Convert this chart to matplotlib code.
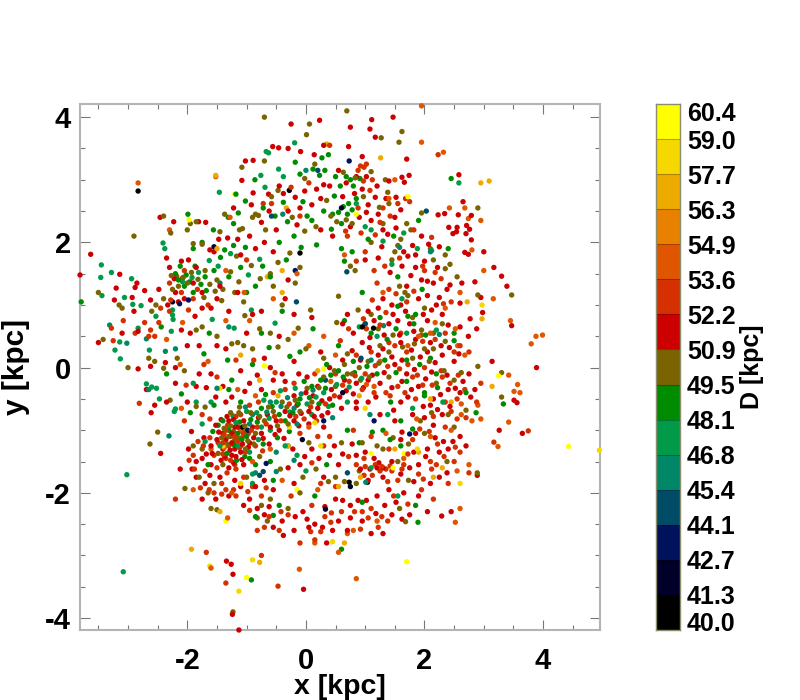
import matplotlib
matplotlib.use("Agg")
import matplotlib.pyplot as plt
from matplotlib.colors import ListedColormap, BoundaryNorm
import numpy as np

plt.rcParams['font.family'] = ['Liberation Sans', 'DejaVu Sans']
plt.rcParams['axes.unicode_minus'] = False

# colour band edges (labels on the bar) and band colours
band_labels = ['40.0','41.3','42.7','44.1','45.4','46.8','48.1','49.5','50.9','52.2','53.6','54.9','56.3','57.7','59.0','60.4']
band_colors = ['#000000','#000028','#00125c','#004c66','#008768','#009a48','#008c00','#7a6400',
               '#cc0000','#d43000','#e05500','#e88000','#edab00','#f5d800','#ffff00']

# points, one list per colour band: (x kpc, y kpc)
black = [(-2.83,2.82),(-0.28,2.83),(0.95,0.65),(1.14,0.63),(-1.07,-0.95),(0.73,-1.83),(1.04,-1.83),(-0.1,1.83)]
darknavy = [(-1.55,1.93),(-2.25,1.05),(0.62,-0.40),(0.75,-1.9),(-0.06,-1.15),(0.33,-2.26),(0.6,2.55)]
navy = [(-1.98,1.08),(-0.18,1.55),(-2.13,1.02),(-0.98,-1.0),(-0.67,-1.53),(1.75,-1.06),(0.3,-0.85),(1.15,-0.85),(0.73,3.3)]
blueteal = [(-0.58,2.42),(0.2,3.15),(2.03,2.5),(-0.16,1.05),(0.69,1.53),(0.7,-1.68),(0.93,0.15),(-0.72,-1.66),(-0.78,-1.72),(0.33,-0.2),(1.0,0.7)]
teal = [(-3.31,0.68),(-3.02,0.39),(-2.69,0.46),(-2.37,0.26),(-0.39,2.45),(0.0,3.15),(-2.31,-1.09),(-2.2,0.3),(-1.3,0.65),(-1.45,1.35),(-0.9,-0.75),(-0.6,-0.55),(-0.2,-0.65),(-0.5,-1.35),(-0.3,-1.25),(-0.2,-1.48),(-0.5,-1.66),(-0.85,-1.68),(-0.95,-0.9),(0.45,-0.8),(1.31,0.67),(2.25,0.53),(2.1,1.85),(1.58,1.92),(1.1,0.12),(1.01,-1.83),(1.08,-0.75),(-0.15,-0.9),(-1.5,-0.33),(-2.65,-0.35),(-0.42,-0.62),(-0.31,-0.48),(-0.66,-0.71),(-0.08,-0.42),(0.12,-0.36),(-1.02,-0.63)]
midgreen = [(-3.45,1.64),(-3.46,1.44),(-3.28,1.52),(-3.44,1.15),(-3.06,1.12),(-2.94,1.42),(-2.92,1.01),(-2.78,0.99),(-2.83,0.63),(-2.53,0.82),(-3.14,0.41),(-3.13,0.14),(-3.22,0.28),(-2.64,0.28),(-2.25,0.92),(-2.25,0.84),(-2.24,0.77),(-2.27,0.58),(-1.46,2.80),(-2.41,1.99),(-2.38,1.9),(-0.67,3.45),(-0.63,3.43),(-0.76,3.07),(-0.69,2.88),(-0.46,3.17),(-0.38,3.05),(-0.19,3.59),(-3.02,-1.71),(-3.08,-3.26),(-2.69,-0.26),(-2.60,-0.31),(-2.52,-0.33),(-2.47,-0.50),(-2.2,-0.66),(-2.22,-0.70),(-1.9,-0.25),(-1.85,-0.55),(-1.6,-0.55),(-1.75,-0.9),(-1.7,-1.18),(-1.45,-1.25),(-1.15,-1.25),(-0.95,-1.35),(-0.9,-1.7),(-0.9,-1.85),(-0.8,-1.15),(-0.5,-0.55),(-0.35,-1.25),(-0.15,-1.4),(0.0,-1.65),(-1.0,-0.7),(-0.75,-0.95),(-0.6,-1.0),(1.3,2.02),(1.45,1.65),(1.65,2.15),(2.12,1.87),(1.88,1.9),(0.85,2.62),(1.0,2.25),(1.1,2.2),(1.62,1.1),(0.9,0.65),(1.2,0.5),(2.2,0.6),(1.7,0.55),(2.58,2.95),(1.55,-2.05),(1.1,-1.6),(1.8,-0.65),(1.38,-0.75),(2.31,-0.55),(0.7,-0.55),(0.3,-0.4),(0.1,-0.75),
(-1.92,1.44),(-2.08,1.37),(-1.81,1.52),(-1.63,1.71),(-1.48,1.62),(-1.27,1.82),(-0.97,1.48),(-0.78,1.73),(-1.58,0.77),(-1.21,0.63),(-0.92,0.92),(-0.52,0.71),(-0.71,-0.52),(-0.43,-0.37),(-0.27,-0.71),(-0.18,-0.33),(0.02,-0.58),(0.17,-0.47),(0.38,-0.62),(0.52,-0.27),(0.73,-0.31),(0.94,-0.17),(-1.23,-0.77),(-0.83,-0.72),(-0.62,-0.81),(-1.07,-1.03),(-1.18,-0.88)]
green = [(-3.79,1.05),(-2.44,0.65),(-1.99,2.45),(-1.56,2.20),(-1.14,2.47),(-1.22,2.30),(-1.31,2.40),(-1.37,1.88),(-1.18,2.77),(-0.86,3.0),(-0.10,3.09),(0.12,3.17),(0.23,3.07),(0.32,3.15),(0.27,3.35),(-0.38,2.64),(-0.05,2.65),(-1.75,2.0),(-1.9,1.9),(-2.05,1.3),(-2.15,1.4),(-2.2,1.5),(-1.9,1.2),(-1.7,1.45),(-1.55,1.55),(-1.3,1.45),(-1.1,1.6),(-1.0,1.2),(-0.85,1.3),(-0.6,1.45),(-0.45,2.0),(-0.2,2.1),(0.1,2.35),(0.3,2.5),(0.45,2.45),(0.6,2.3),(0.7,2.45),(0.75,3.0),(0.68,3.05),(0.58,2.9),(0.8,2.9),(0.5,3.05),(0.85,2.7),(0.6,1.9),(0.78,1.85),(0.65,1.7),(0.95,1.2),(1.05,2.05),(2.45,3.02),(1.55,1.45),(1.48,2.1),(1.9,2.35),(2.4,1.9),(1.96,1.25),(1.55,0.98),(1.85,0.85),(1.2,-0.1),(2.7,-0.4),(1.82,0.7),(2.5,0.55),(2.5,0.43),(2.1,0.15),(1.25,0.8),(0.65,0.75),(0.55,0.35),(1.0,0.7),(1.1,0.55),(1.7,0.12),(2.0,-0.4),(0.8,0.1),(-0.4,0.9),(-0.75,0.55),(-0.9,0.05),(-0.1,-0.5),(0.1,-0.3),(0.25,-0.2),(0.45,-0.6),(-0.35,-0.85),(-0.6,-1.5),(-0.75,-0.65),(-0.45,-0.75),(-1.3,-1.0),(-1.15,-1.05),(-1.0,-1.1),(-1.3,-0.35),(-1.55,-0.6),(-1.4,-0.85),(-1.25,-0.2),(-1.1,-0.55),(-1.65,-1.55),(-1.08,-1.15),(-0.92,-3.39),(-0.95,-1.45),(-0.85,-1.55),(-0.55,-2.36),(-0.85,-2.38),(1.8,-0.98),(1.6,-0.85),(1.3,-1.0),(1.42,-1.15),(1.6,-1.25),(1.89,-2.47),(1.85,-2.2),(0.9,-1.2),(0.7,-1.0),(0.95,-2.15),(0.6,-2.9),(-0.55,-1.8),(-0.45,-2.2),(3.33,-0.58),(2.87,-0.72),(2.2,-0.1),(2.0,-0.45),(1.43,-0.55),(1.7,-0.22),(0.55,-0.05),(0.35,0.05),(-0.1,0.25),
(-2.02,1.48),(-1.96,1.37),(-1.77,1.33),(-1.68,1.23),(-1.87,1.62),(-2.12,1.62),(-1.44,1.76),(-1.22,1.95),(-1.02,1.92),(-0.73,1.62),(-0.33,1.72),(-0.08,1.92),(-0.31,2.33),(0.02,2.42),(0.18,1.96),(0.43,2.21),(0.91,3.02),(0.72,2.62),(0.63,2.57),(0.48,2.74),(0.78,2.52),(0.55,2.48),(0.38,3.4),(-0.18,3.28),(-0.52,2.42),(-0.72,2.55),(-1.02,2.66),(-1.63,0.55),(-1.32,0.12),(-1.72,0.22),(-0.62,0.32),(-0.27,0.18),(0.12,0.62),(-0.03,-0.22),(-0.22,-0.72),(-0.13,-0.58),(0.06,-0.48),(0.22,-0.58),(0.33,-0.33),(0.42,-0.12),(0.63,-0.15),(0.82,-0.08),(1.03,0.02),(1.33,0.12),(1.52,-0.08),(1.92,0.05),(2.22,-0.32),(-0.57,-0.62),(-0.68,-0.43),(-0.82,-0.87),(-0.93,-0.83),(-1.12,-0.87),(-1.22,-1.23),(-1.33,-1.37),(-1.17,-1.48),(-1.48,-0.92),(-1.57,-1.02),(-1.03,-1.42),(-0.72,-1.22),(-0.48,-1.12),(-0.28,-1.02),(-2.35,-0.1),(-2.1,-0.42),(-1.95,-0.72),(1.52,0.62),(1.72,0.82),(2.02,0.52),(1.37,0.45),(1.12,-1.03),(0.35,-1.55),(0.15,-2.05)]
olive = [(-2.9,2.1),(-2.4,2.42),(-2.28,2.15),(-1.95,2.3),(-1.85,2.33),(-2.0,2.2),(-1.9,1.98),(-1.75,1.97),(-1.37,2.45),(-1.45,2.17),(-1.07,2.22),(-1.12,2.2),(-0.7,3.3),(-1.08,3.2),(-0.68,2.2),(-0.8,2.43),(-0.85,2.45),(-0.9,2.4),(-0.7,4.0),(0.06,3.89),(0.01,3.72),(0.15,3.25),(0.69,4.1),(1.62,3.77),(1.57,3.6),(1.27,3.67),(1.1,3.13),(1.34,3.0),(1.38,2.8),(1.24,2.56),(1.4,2.62),(2.9,2.55),(1.95,2.47),(1.77,2.2),(1.3,2.3),(1.7,2.3),(1.55,1.95),(1.6,2.05),(1.1,2.0),(2.35,1.8),(2.1,1.9),(2.15,1.72),(1.5,1.85),(1.45,1.72),(1.58,1.3),(2.55,1.45),(2.35,1.58),(2.43,1.65),(0.83,1.55),(0.75,1.62),(0.55,1.14),(1.67,1.2),(1.72,1.15),(2.9,1.16),(3.47,1.16),(2.0,0.95),(2.3,0.7),(2.9,0.02),(0.78,-0.1),(0.65,0.05),(0.7,0.22),(1.1,0.85),(1.8,0.8),(1.95,0.52),(2.15,0.55),(1.95,0.6),(2.35,0.42),(2.0,0.3),(2.15,0.3),(1.25,0.35),(1.4,0.25),(-3.5,1.2),(-3.15,1.0),(-3.1,0.95),(-2.6,0.9),(-2.53,1.0),(-2.4,1.1),(-2.25,1.25),(-2.15,1.3),(-2.0,1.35),(-1.7,1.55),(-1.5,1.4),(-1.4,1.25),(-1.2,1.2),(-1.05,1.05),(-0.6,1.5),(-0.55,1.3),(-0.4,1.0),(-0.18,1.35),(-0.1,1.6),(-3.42,0.45),(-3.0,0.0),(-2.65,0.15),(-2.55,0.1),(-2.17,0.15),(-1.85,0.6),(-1.75,0.65),(-1.5,0.5),(-1.25,0.38),(-1.15,0.4),(-1.05,0.35),(-0.9,0.3),(-0.6,0.55),(-0.3,0.45),(0.0,0.3),(0.3,0.15),(-2.40,-0.01),(-2.05,-0.05),(-2.5,-1.03),(-2.63,-1.22),(-2.29,-0.52),(-1.85,-0.62),(-1.7,-0.63),(-1.9,-1.25),(-1.75,-1.3),(-2.04,-1.93),(-1.8,-1.75),(-1.65,-2.0),(-1.55,-1.85),(-1.4,-1.55),(-1.3,-1.1),(-1.2,-1.15),(-1.1,-1.25),(-1.0,-1.0),(-0.85,-1.05),(-0.7,-0.85),(-0.55,-0.7),(-0.4,-0.55),(-0.3,-0.9),(-0.1,-0.7),(0.1,-0.55),(0.3,-0.15),(0.5,-0.3),(0.7,-0.1),(0.9,0.0),(1.05,0.1),(1.4,-0.15),(1.8,0.15),(2.2,-0.25),(2.5,-0.2),(3.3,-0.08),(3.3,-0.47),(-1.0,-1.75),(-0.75,-2.2),(-0.6,-2.1),(-0.3,-2.25),(-0.1,-2.0),(0.05,-1.2),(-0.05,-1.75),(0.6,-1.2),(0.95,-1.2),(1.2,-1.25),(1.3,-1.3),(0.5,-1.75),(0.65,-1.82),(0.85,-1.85),(0.9,-1.65),(1.68,-2.46),(1.73,-1.8),(1.58,-2.25),(1.55,-1.5),(2.4,-0.75),(2.7,-0.68),(2.89,-1.68),(2.0,-1.05),(2.38,-1.5),(-1.23,-3.90),(-1.5,-2.27),(-1.6,-2.25),(-0.82,-2.4),(-0.65,-2.45),
(-2.27,1.47),(-2.18,1.46),(-2.07,1.44),(-1.93,1.52),(-1.82,1.41),(-1.62,1.33),(-1.53,1.22),(-1.72,1.12),(-1.42,1.07),(-1.27,1.53),(-1.13,1.37),(-0.92,1.63),(-0.77,1.42),(-0.47,1.68),(-0.27,1.83),(-0.02,2.18),(0.17,2.25),(0.35,2.67),(0.52,2.33),(0.83,3.03),(0.97,2.73),(0.63,3.12),(0.42,2.42),(0.68,2.36),(0.78,2.3),(-0.02,3.02),(-0.47,2.83),(-0.58,2.73),(-0.23,2.4),(-1.17,1.78),(-1.03,0.83),(-0.78,0.62),(-0.47,0.33),(-0.13,0.63),(0.08,0.92),(0.52,0.72),(0.88,0.92),(1.22,0.62),(1.47,0.52),(1.63,0.33),(1.83,0.38),(2.08,0.1),(2.33,-0.05),(2.62,-0.08),(1.23,0.07),(1.07,-0.15),(0.92,-0.2),(0.48,-0.05),(0.22,-0.32),(0.02,-0.33),(-0.18,-0.52),(-0.32,-0.63),(-0.48,-0.93),(-0.63,-0.63),(-0.78,-0.78),(-0.93,-0.72),(-1.03,-0.93),(-1.13,-0.72),(-1.27,-0.93),(-1.38,-0.97),(-1.42,-1.12),(-1.33,-1.22),(-1.22,-1.02),(-1.12,-1.13),(-0.98,-1.17),(-0.88,-1.22),(-1.12,-0.63),(-1.27,-0.72),(-1.48,-1.37),(-1.02,-1.3),(-0.78,-1.42),(-0.43,-1.62),(0.17,-1.62),(0.38,-1.82),(1.47,-1.12),(1.73,-1.22),(1.93,-0.85),(2.12,-0.72),(2.5,-0.95)]
red = [(-3.63,1.81),(-3.81,1.48),(-3.14,1.49),(-3.20,1.27),(-3.23,1.08),(-2.88,1.28),(-2.85,1.35),(-2.46,2.40),(-2.23,2.33),(-1.69,2.32),(-1.81,2.33),(-1.08,2.99),(-1.02,3.30),(-0.89,3.31),(-0.63,2.77),(-0.45,2.90),(-0.89,2.79),(-0.56,3.53),(-0.46,3.51),(-0.30,3.50),(-0.25,3.89),(-0.09,3.45),(0.14,3.40),(0.3,3.55),(0.23,3.95),(1.11,3.96),(1.47,4.0),(0.75,3.84),(1.08,3.81),(1.17,3.68),(1.70,3.33),(0.95,3.37),(0.72,3.53),(1.62,3.04),(1.74,3.07),(1.66,2.96),(1.40,2.98),(2.58,3.08),(2.65,2.65),(2.57,2.44),(2.34,2.46),(2.23,2.44),(2.79,2.43),(2.71,2.27),(2.76,2.21),(2.70,2.14),(2.79,2.04),(2.55,2.24),(2.41,2.24),(2.48,2.14),(2.54,2.17),(2.68,1.84),(2.74,1.81),(3.0,1.85),(3.17,1.60),(3.30,1.46),(3.39,1.30),(2.95,1.12),(2.98,0.88),(3.47,0.67),(2.88,0.62),(2.74,0.50),(3.14,0.10),(3.89,0.0),(3.51,-0.52),(3.56,-0.56),(3.65,-1.05),(3.26,-1.0),(2.89,-1.72),(2.45,-2.30),(-2.83,-0.02),(-2.69,-0.35),(-2.61,-0.72),(-2.55,-0.6),(-2.45,-1.37),(-1.34,-3.09),(-1.26,-3.14),(-1.23,-3.30),(-1.24,-3.94),(-1.13,-4.19),(-0.04,-3.54),(-2.2,0.0),(-2.35,-0.55),(-2.2,-0.25),(-2.0,-0.55),(-1.85,-0.3),(-1.6,-0.1),(-1.4,-0.3),(-1.1,-0.05),(-0.95,-0.25),(-0.75,-0.35),(-0.6,0.0),(-0.4,-0.1),(-0.2,0.1),(-2.1,0.6),(-1.95,0.55),(-1.75,0.95),(-1.6,0.95),(-1.5,1.1),(-1.45,1.3),(-1.75,1.2),(-1.9,1.35),(-2.2,1.2),(-2.05,1.1),(-2.3,1.6),(-2.35,1.75),(-2.1,1.7),(-1.85,1.6),(-1.55,1.85),(-1.1,1.8),(-0.85,1.9),(-0.7,2.0),(-0.5,2.2),(-0.3,2.5),(-0.1,2.55),(0.1,2.6),(0.25,2.7),(0.4,2.9),(0.55,3.15),(0.68,2.95),(0.85,3.05),(0.95,2.85),(1.05,2.6),(1.2,2.9),(1.35,2.7),(1.5,2.4),(1.3,2.2),(1.1,2.35),(0.9,2.4),(0.75,2.25),(1.65,1.85),(1.8,1.95),(1.95,2.1),(2.0,1.7),(2.15,1.35),(1.95,1.4),(1.85,1.6),(1.7,1.3),(1.45,1.0),(1.3,1.1),(1.6,1.0),(1.9,1.1),(2.05,1.15),(2.2,1.0),(2.3,0.85),(2.05,0.75),(2.1,0.4),(1.85,0.45),(1.6,0.4),(1.3,0.3),(0.95,0.4),(0.8,0.55),(0.62,0.7),(0.7,0.85),(1.05,0.9),(1.15,0.75),(1.4,0.7),(1.55,0.75),(1.75,0.7),(2.05,0.25),(2.3,0.2),(2.5,0.1),(2.75,-0.1),(2.85,-0.35),(2.6,-0.4),(2.4,-0.35),(2.15,-0.5),(2.3,-0.75),(2.1,-0.6),(1.9,-0.3),(1.7,-0.1),(1.5,0.05),(1.25,-0.25),(1.05,-0.2),(0.85,-0.25),(0.65,-0.2),(0.4,0.0),(0.2,-0.3),(0.0,-0.4),(-0.2,-0.45),(-0.35,-0.7),(-0.2,-0.85),(0.05,-0.9),(0.2,-0.65),(0.4,-0.5),(0.6,-0.65),(-0.5,-0.85),(-0.65,-0.75),(-0.8,-0.8),(-0.9,-0.95),(-1.05,-0.85),(-1.2,-0.95),(-1.3,-0.85),(-1.4,-1.05),(-1.25,-1.2),(-1.1,-1.35),(-1.25,-1.4),(-1.4,-1.3),(-1.5,-1.15),(-1.6,-1.25),(-1.75,-1.45),(-1.85,-1.5),(-1.6,-1.55),(-1.3,-1.6),(-1.45,-1.75),(-1.2,-1.8),(-1.05,-1.55),(-0.85,-1.9),(-0.7,-1.8),(-0.55,-1.95),(-1.7,-1.85),(-1.85,-1.75),(-1.75,-2.1),(-1.3,-2.05),(-1.1,-1.9),(-0.95,-2.1),(-0.7,-2.35),(-0.55,-2.55),(-0.4,-2.45),(-0.2,-2.6),(-0.05,-2.3),(0.15,-2.5),(0.05,-2.55),(0.35,-2.8),(-0.2,-1.85),(-0.3,-1.6),(-0.1,-1.55),(0.1,-1.3),(0.4,-1.4),(0.55,-1.55),(0.3,-1.75),(0.5,-2.1),(0.75,-2.2),(0.95,-2.45),(1.1,-2.65),(1.3,-2.65),(1.45,-2.35),(1.2,-2.05),(1.05,-1.8),(1.3,-1.75),(1.15,-1.45),(1.45,-1.5),(1.2,-1.6),(1.0,-1.35),(0.85,-1.4),(1.6,-1.7),(1.75,-1.6),(1.9,-1.55),(2.05,-1.3),(2.25,-1.35),(2.4,-1.3),(2.6,-1.1),(2.7,-1.25),(1.6,-1.15),(1.85,-1.05),(1.5,-0.85),(1.25,-0.75),(1.05,-0.55),(0.85,-0.55),(1.6,-0.55),(1.8,-0.75),(2.0,-0.8),(1.75,-2.35),(1.9,-2.05),(2.05,-2.3),(2.29,-2.37),(2.25,-1.75),(2.1,-1.85),(1.65,-2.0),(1.4,-1.95),(0.7,-2.6),(0.75,-2.4),(0.45,-2.6),(0.55,-2.45),(0.85,-0.65),(-3.1,0.55),(-2.83,0.58),(-3.5,0.4),(-2.9,0.9),(-2.0,0.35),(-1.8,0.35),(-1.3,0.9),(-1.15,1.2),(-0.9,0.85),(-0.75,0.9),(-0.55,1.85),(-0.3,1.4),(-0.35,1.1),(-0.2,0.85),(0.1,0.8),(0.25,0.25),(0.02,-0.15),(-0.45,0.5),(-0.7,0.15),(-1.5,0.35),(-1.35,0.3),(-1.0,0.55),(-1.8,-0.1),(-1.25,-1.05),(-1.15,-0.95),(-1.35,-1.15),(-1.2,-1.3),(-0.95,-1.2),(-0.75,-1.05),(-0.6,-0.95),(-0.45,-1.0),(-0.15,-0.6),(0.05,-0.7),(0.3,-0.95),
(-1.47,-1.03),(-1.52,-0.92),(-1.43,-0.83),(-1.33,-0.78),(-1.22,-0.83),(-1.17,-1.12),(-1.28,-1.32),(-1.37,-1.42),(-1.18,-1.42),(-1.07,-1.22),(-0.97,-1.27),(-1.08,-1.47),(-1.22,-1.52),(-1.43,-1.48),(-1.58,-1.37),(-1.68,-1.38),(-1.72,-1.12),(-0.88,-1.12),(-0.72,-1.13),(-0.62,-1.22),(-0.52,-1.07),(-0.37,-1.13),(-0.27,-0.77),(-0.12,-0.93),(-0.08,-0.73),(0.14,-0.78),(0.27,-0.77),(0.37,-0.72),(0.12,-0.45),(0.27,-0.53),(0.43,-0.35),(0.57,-0.47),(0.68,-0.37),(0.8,-0.42),(0.97,-0.32),(1.12,-0.12),(1.32,-0.08),(1.45,-0.32),(1.62,-0.22),(1.78,-0.35),(1.83,-0.03),(2.02,-0.18),(2.12,-0.07),(2.27,-0.43),(2.38,-0.12),(2.52,-0.33),(2.65,-0.22),(2.78,-0.47),(2.43,-0.62),(2.22,-0.67),(1.98,-0.62),(1.72,-0.47),(1.48,-0.68),(1.18,-0.47),(0.62,0.12),(0.78,0.27),(0.92,0.12),(1.07,0.32),(1.22,0.2),(1.45,0.17),(1.62,0.12),(1.78,0.28),(1.93,0.17),(2.18,0.08),(2.28,0.35),(2.42,0.32),(2.58,0.22),(1.08,0.48),(1.32,0.52),(1.58,0.52),(1.82,0.58),(2.4,0.68),(2.6,0.65),(1.22,0.95),(1.47,0.85),(1.68,0.9),(1.98,0.85),(2.12,0.92),(2.25,1.12),(2.38,1.25),(2.05,1.38),(1.77,1.47),(1.62,1.62),(1.85,1.8),(2.07,1.97),(2.25,1.93),(2.22,1.6),(2.43,1.32),(2.63,1.35),(2.6,1.03),(2.77,0.78),(2.85,1.37),(1.72,1.78),(1.42,1.52),(1.22,1.75),(1.0,1.72),(1.28,1.93),(1.38,2.13),(1.52,2.23),(1.22,2.45),(1.02,2.48),(1.17,2.72),(1.52,2.72),(1.6,2.52),(1.02,3.05),(0.82,2.78),(0.62,2.73),(0.3,2.92),(0.18,2.85),(-0.02,2.82),(-0.18,2.72),(-0.38,2.78),(-0.62,2.5),(-0.75,2.32),(-0.95,2.1),(-1.15,2.05),(-1.32,2.07),(-1.47,2.05),(-1.62,1.88),(-1.98,1.72),(-2.22,1.42),(-2.15,1.05),(-2.33,1.0),(-2.48,1.25),(-2.62,1.08),(-2.72,1.23),(-2.93,1.12),(-1.22,2.55),(-0.92,2.6),(-0.15,2.28),(0.25,2.2),(0.45,2.1),(-1.87,0.82),(-2.37,0.08),(-2.62,0.02),(-1.68,-0.32),(-1.52,-0.47),(-1.35,-0.55),(-1.25,-0.47),(-1.03,-0.38),(-0.82,-0.12),(-0.55,-0.2),(-0.35,-0.22),(-0.12,-0.1),(-1.93,-1.02),(-1.98,-1.3),(-2.12,-1.62),(-1.92,-1.62),(-1.62,-1.72),(-1.52,-2.1),(-1.05,-2.2),(-0.82,-2.25),(-0.62,-2.22),(-0.38,-2.68),(-0.18,-2.38),(0.02,-2.42),(0.28,-2.55),(0.32,-2.22),(0.62,-2.12),(0.88,-2.12),(1.02,-2.12),(1.18,-2.33),(1.33,-2.2),(1.52,-2.15),(1.62,-2.42),(1.82,-1.82),(1.3,-1.6),(1.23,-1.52),(1.08,-1.62),(0.92,-1.62),(0.78,-1.22),(0.62,-1.38),(0.48,-1.25),(0.22,-1.45),(-0.02,-1.42),(-0.22,-1.3),(1.62,-1.03),(1.82,-1.35),(2.18,-1.12),(2.32,-1.18),(2.48,-1.18),(2.15,-0.92),(2.02,-1.42),(2.38,-1.68)]
orangered = [(-2.81,-0.57),(-3.28,0.63),(-3.08,0.75),(-3.25,0.43),(-2.88,0.55),(-1.68,-2.95),(-1.35,-3.44),(-0.47,-3.49),(0.92,3.22),(0.98,3.2),(0.88,3.15),(1.02,3.25),(2.23,3.4),(1.68,2.7),(1.75,2.65),(3.17,-1.19),(3.75,-1.01),(2.1,-1.5),(1.9,-1.7),(1.65,-1.55),(1.4,-1.3),(1.1,-1.1),(0.8,-1.0),(1.35,-0.4),(1.55,-0.3),(1.8,-0.15),(2.0,0.0),(2.3,-0.15),(2.55,-0.5),(2.7,-0.8),(2.95,-0.25),(2.6,0.35),(2.75,0.25),(1.2,1.35),(1.4,1.25),(1.15,1.55),(0.85,1.7),(1.0,1.85),(0.7,2.1),(-2.3,1.35),(-2.05,1.55),(-2.1,1.2),(-1.9,1.1),(-2.3,0.9),(-2.65,0.5),(-2.55,0.5),(-1.5,-0.15),(-1.35,-1.0),(-1.2,-1.1),(-1.3,-1.25),(-1.15,-1.18),(-1.4,-1.2),(-1.05,-1.05),(-1.35,-1.45),(-1.2,-1.55),(-1.05,-1.75),(-1.5,-1.6),(-1.55,-1.4),(-1.9,-1.4),(-1.7,-1.65),(-1.55,-2.0),(-1.35,-1.95),(-0.9,-1.9),(-0.75,-2.05),(-0.7,-2.55),(-0.3,-2.35),(-0.25,-2.05),(0.1,-2.2),(0.25,-1.85),(0.5,-1.9),(0.6,-2.3),(0.95,-2.3),(1.1,-2.25),(1.25,-1.65),(1.35,-1.62),(1.45,-1.65),(0.98,-1.45),(0.85,-1.55),(0.4,-1.1),(0.2,-1.1),(-0.1,-1.05),(-0.35,-0.35),(-0.55,-0.4),(-0.8,-0.55),(-0.95,-0.6),(-1.1,-0.75),(-0.2,-0.25),(0.15,-0.1),(0.5,-0.1),(0.95,-0.35),(1.15,-0.4),(1.85,-0.5),(2.35,-0.55),(2.45,-0.7),(2.35,-0.95),(2.6,-1.35),(0.85,0.2),(1.1,0.25),(1.4,0.4),(1.7,0.25),(1.6,0.55),(-2.2,-2.1),(-0.75,-3.0),(2.2,-1.55),(2.75,-1.68),(2.4,-1.85),(2.15,-2.1),(1.95,-1.95),(1.8,-1.15),(2.5,-1.5),(-2.05,-0.85),(-1.75,-0.75),(-0.1,-2.8),(0.15,-2.75),(0.05,2.95),(0.4,3.55),
(-1.27,-1.1),(-1.38,-1.07),(-1.48,-1.2),(-1.32,-0.92),(-1.18,-0.78),(-1.08,-1.12),(-0.97,-1.05),(-1.12,-1.28),(-1.27,-1.48),(-1.4,-1.38),(-1.18,-1.62),(-1.33,-1.68),(-1.02,-1.35),(-0.92,-1.0),(-0.82,-0.95),(-0.67,-0.9),(-0.53,-0.78),(-0.42,-0.85),(-0.28,-0.58),(-0.17,-0.78),(-0.03,-0.82),(0.08,-0.63),(0.18,-0.85),(0.33,-0.58),(0.48,-0.45),(0.62,-0.28),(0.73,-0.22),(0.83,-0.13),(1.0,-0.1),(1.17,0.03),(1.38,0.02),(1.58,-0.02),(1.72,0.05),(1.88,-0.12),(1.97,-0.28),(2.13,-0.28),(2.28,-0.05),(2.43,-0.25),(2.57,-0.12),(2.68,-0.35),(1.67,-0.4),(1.42,-0.45),(1.97,0.42),(2.18,0.45),(2.35,0.55),(2.5,0.25),(1.25,0.68),(1.5,0.35),(1.02,0.62),(1.35,0.88),(1.7,1.05),(2.28,1.42),(2.45,1.05),(2.0,1.55),(2.32,1.02),(1.58,1.75),(1.33,1.62),(1.17,2.12),(1.25,2.32),(1.42,2.42),(1.55,2.62),(1.3,2.55),(0.93,2.15),(0.67,2.18),(0.97,2.98),(1.12,3.0),(-0.25,2.88),(-0.72,2.62),(-2.08,1.43),(-1.83,1.25),(-1.65,1.0),(-2.28,1.08),(-2.45,0.95),(-2.72,0.72),(-2.62,0.6),(-0.85,-1.25),(-0.73,-1.33),(-1.62,-1.12),(-1.73,-1.25),(-1.82,-1.18),(-1.88,-1.62),(-1.42,-1.85),(-1.22,-1.95),(-1.63,-1.95),(-0.98,-1.98),(-0.67,-1.92),(-0.82,-2.6),(-0.42,-2.3),(0.08,-2.62),(0.25,-2.62),(0.43,-2.32),(0.82,-2.3),(1.05,-2.4),(1.22,-2.55),(1.38,-2.45),(1.55,-1.8),(1.38,-1.82),(1.12,-1.72),(1.0,-1.58),(0.72,-1.42),(0.3,-1.25),(0.1,-1.52),(1.72,-1.38),(2.08,-1.02),(2.22,-1.22),(2.55,-0.82),(2.88,-0.55),(2.15,-0.78),(1.92,-0.98),
(1.42,-1.57),(1.28,-1.58),(1.17,-1.55),(0.98,-1.72),(1.62,-1.62),(1.98,-1.78),(2.12,-1.62),(2.33,-1.42),(2.52,-1.27),(0.42,-2.47),(0.32,-2.38),(0.92,-2.58),(1.28,-2.38),(1.48,-2.05),(1.72,-2.18),(-0.45,-2.6),(-0.62,-2.38),(-0.95,-2.28),(-1.18,-2.05),(-1.42,-2.02),(-1.78,-1.92),(-1.97,-1.48),(-1.62,-0.82),(-2.02,-0.28),(-1.72,0.05),(-1.18,0.12),(-0.88,0.12),(-0.52,-0.08),(0.58,0.43),(0.72,0.62),(0.97,0.78),(1.12,1.08),(1.52,1.18),(1.82,1.22),(1.97,1.62),(2.18,1.52),(2.12,2.08),(1.82,2.2),(0.88,2.55),(1.08,2.83),(-0.1,2.42),(-0.58,2.62),(-1.0,1.72),(-2.48,0.72),(-1.98,0.92)]
orange2 = [(-1.52,3.05),(1.95,4.18),(2.32,3.44),(2.42,2.55),(1.95,3.6),(-2.83,2.95),(-2.08,0.72),(-2.35,0.45),(-1.28,2.4),(-1.35,1.55),(-1.04,1.2),(-0.95,0.75),(-0.55,1.1),(-0.15,1.5),(0.65,1.8),(1.3,1.2),(1.9,0.5),(2.68,0.2),(2.56,0.35),(2.95,2.35),(2.68,2.55),(2.74,2.38),(2.8,1.88),(3.0,1.55),(3.16,1.1),(3.45,0.75),(3.88,0.5),(3.99,0.52),(3.8,0.38),(2.6,1.2),(2.35,0.95),(2.1,0.55),(3.42,-0.87),(3.61,-0.40),(3.51,-0.38),(3.42,-0.12),(3.57,-0.27),(3.24,-1.26),(2.9,-0.6),(2.8,-0.85),(2.62,-0.75),(2.45,-1.0),(2.1,-1.1),(1.65,-1.45),(1.35,-1.05),(2.55,-1.65),(2.6,-2.25),(2.75,-1.55),(2.52,-2.47),(1.2,-2.45),(0.85,-3.37),(-1.32,-2.4),(-1.25,-2.0),(-0.11,-3.22),(-1.6,-3.2),(-1.9,-1.95),(0.15,-2.8),(0.7,-2.65),(0.55,-2.95),(0.8,-2.6),(-1.6,-1.3),(-0.6,-1.3),(-0.9,-1.5),(-0.4,-1.8),(0.2,-1.95),(1.15,-0.3),(1.25,0.1),(0.5,0.2),(0.3,0.5),(0.05,0.35),(-0.2,0.55),(-0.85,-0.45),(-1.65,0.1),(-2.12,0.05),(-1.15,-0.35),(-1.35,0.75),(-2.3,2.2),(-2.1,-0.65),(1.5,3.0),(1.4,2.7),
(2.52,0.62),(2.18,0.72),(1.72,0.35),(1.02,-0.27),(1.87,-0.82),(2.62,-0.58),(2.95,-0.82),(-1.1,-1.0),(-1.22,-1.22),(-1.38,-1.28),(0.42,-0.22),(0.05,-0.95)]
amber = [(-1.52,3.07),(0.35,3.57),(1.26,3.35),(2.95,2.95),(3.09,2.98),(-0.33,2.55),(-1.5,1.9),(-0.4,1.55),(-0.65,1.45),(-0.4,1.2),(2.72,1.05),(2.97,0.78),(0.2,-0.05),(3.14,-0.30),(2.45,-0.55),(2.1,-0.5),(1.9,-1.35),(2.3,-1.6),(2.15,-1.75),(-1.93,-2.90),(-0.78,-3.11),(-0.78,-0.2),(-0.3,-1.25),(-0.47,-0.45),(0.55,-1.9),(0.92,-1.75),(0.65,-2.8),(0.9,-0.45),(-1.45,-2.3),(1.5,-1.3),(-1.1,0.2)]
gold = [(-1.1,-1.85),(-0.9,-3.07),(-1.13,-3.57),(-1.62,-3.17),(4.95,-1.32),(2.97,1.0),(0.15,-0.88),(0.45,-2.78),(-1.45,-0.33),(-1.4,-1.25),(-0.28,-0.95),(0.25,-1.25),(1.0,-0.65),(1.88,-1.3),(2.6,-1.85)]
yellow = [(-1.2,2.77),(-1.97,2.36),(4.43,-1.26),(1.70,-3.10),(1.72,2.73),(0.85,2.45),(3.25,-0.13),(-1.35,-2.45),(2.89,-1.7),(1.66,-1.37),(1.47,-1.6),(-1.0,-3.35),(-0.75,0.55),(-0.7,0.03),(0.3,-0.02),(-0.15,-1.95),(1.1,-1.37)]

series = [black, darknavy, navy, blueteal, teal, midgreen, green, olive, red, orangered, orange2, amber, gold, yellow]
series_band = [0, 1, 2, 3, 4, 5, 6, 7, 8, 9, 10, 12, 13, 14]

fig = plt.figure(figsize=(8, 7), dpi=100)
W, H = 800, 700
ax = fig.add_axes([80/W, 1-630/H, 520/W, 526/H])

# all points in one scatter; a fixed interleaved draw order so the bands overlap each other
xs = np.concatenate([[p[0] for p in s] for s in series])
ys = np.concatenate([[p[1] for p in s] for s in series])
bands = np.concatenate([[b] * len(s) for b, s in zip(series_band, series)])
order = np.argsort((np.abs(xs) * 1000 + np.abs(ys) * 617) % 11)
cmap = ListedColormap(band_colors)
norm = BoundaryNorm(np.arange(16) - 0.5, 15)
ax.scatter(xs[order], ys[order], s=15, c=bands[order], cmap=cmap, norm=norm, linewidths=0, clip_on=False, zorder=3)

ax.set_xlim(-3.81, 4.96)
ax.set_ylim(-4.19, 4.21)
ax.set_xticks([-2, 0, 2, 4])
ax.set_yticks([-4, -2, 0, 2, 4])
ax.set_xticks(np.arange(-3.5, 5, 0.5), minor=True)
ax.set_yticks(np.arange(-4, 4.5, 0.5), minor=True)
ax.tick_params(which='major', direction='in', length=7.2, width=0.8, color='#777777', top=True, right=True, labelsize=21)
ax.tick_params(which='minor', direction='in', length=3.6, width=0.8, color='#777777', top=True, right=True)
ax.tick_params(axis='x', which='major', pad=12)
ax.tick_params(axis='y', which='major', pad=6.5)
for lab in ax.get_xticklabels() + ax.get_yticklabels():
    lab.set_fontweight('bold')
for s in ax.spines.values():
    s.set_color('#b4b4b4')
    s.set_linewidth(1.5)
fig.text(340/W, 1-700/H, 'x [kpc]', fontsize=20.5, fontweight='bold', ha='center', va='bottom')
fig.text(2/W, 1-367/H, 'y [kpc]', fontsize=21.5, fontweight='bold', rotation=90, ha='left', va='center')

cax = fig.add_axes([656/W, 1-630/H, 24/W, 526/H])
n = len(band_colors)
cax.pcolormesh([0, 1], np.arange(n + 1), np.arange(n).reshape(-1, 1), cmap=cmap, norm=norm,
               edgecolors='face', linewidth=0)
for b in range(1, n):
    cax.axhline(b, color='black', alpha=0.25, lw=0.8)
cax.set_xticks([])
label_pos = [0.24] + list(range(1, n)) + [n - 0.22]
cax.yaxis.tick_right()
cax.set_yticks(label_pos)
cax.set_yticklabels(band_labels, fontsize=18, fontweight='bold')
cax.tick_params(axis='y', length=0, pad=5)
cax.set_ylim(0, n)
for s in cax.spines.values():
    s.set_color('#8c8c6e')
    s.set_linewidth(1)
fig.text(752/W, 1-367/H, 'D [kpc]', rotation=90, fontsize=18, fontweight='bold', ha='center', va='center')

fig.savefig('out.png', dpi=100)
